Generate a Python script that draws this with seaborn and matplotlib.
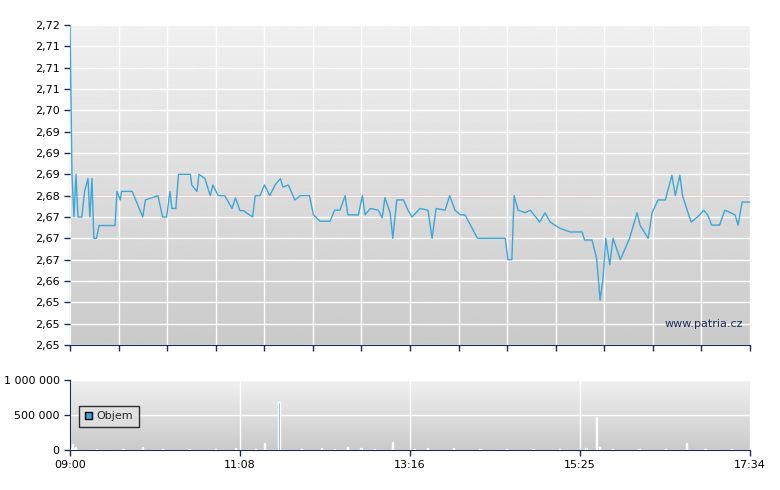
import numpy as np
import pandas as pd
import matplotlib
matplotlib.use("Agg")
import matplotlib.pyplot as plt
import seaborn as sns
from matplotlib.patches import Patch

minutes = [0,1.5,3,4.5,6,9,11,13.6,15,16.6,18,20,22,34,35.5,38,39,47,55,57,66.5,70,73,75.6,77,80,82,91,92,96,97.5,102,106,108,112,117,122.5,125,128.5,131,138,140,143.6,147,151,155,159,161,165,170,174,181,184,189,196.5,200,204,208,210,218,221,223,227,233,236,238,242,244,247,252,255.5,258.5,264.6,270.6,273.7,276.7,283.5,287,291,295,298.6,308,329,331,334,335.7,338.7,344,348,355,359,363,370,378,387,389,394.6,398,400.7,403,405,408,410.5,416,423,428.6,431,437,440,444.5,450,455,457.5,461,463,466.5,469.6,476,479,482,485,491,495,502.7,505,508,514]
prices = [2.72,2.685,2.675,2.685,2.675,2.675,2.681,2.684,2.675,2.684,2.670,2.670,2.673,2.673,2.681,2.679,2.681,2.681,2.675,2.679,2.680,2.675,2.675,2.681,2.677,2.677,2.685,2.685,2.6825,2.681,2.685,2.684,2.680,2.6825,2.680,2.680,2.677,2.6795,2.6765,2.6765,2.675,2.680,2.680,2.6825,2.680,2.6825,2.684,2.682,2.6825,2.679,2.680,2.680,2.6755,2.674,2.674,2.6766,2.6766,2.680,2.6755,2.6755,2.680,2.6755,2.677,2.6766,2.6748,2.6795,2.676,2.670,2.679,2.679,2.6766,2.675,2.677,2.6766,2.670,2.677,2.6766,2.680,2.6766,2.6755,2.6755,2.670,2.670,2.665,2.665,2.680,2.6766,2.676,2.6766,2.6738,2.676,2.6738,2.6724,2.6715,2.6715,2.6696,2.6696,2.6654,2.6555,2.6607,2.670,2.6638,2.670,2.665,2.670,2.676,2.673,2.670,2.676,2.679,2.679,2.6848,2.680,2.6848,2.680,2.6766,2.6738,2.6755,2.6766,2.6755,2.6731,2.6731,2.6766,2.6755,2.6731,2.6785,2.6785]
ref_price = 2.68

vol_minutes = [1,2,3,4,20,40,55,70,90,110,125,140,147,158,175,190,200,210,220,230,244,260,270,290,310,330,350,370,390,398,400,410,430,450,466,480,500]
volumes = [30000,80000,20000,50000,15000,20000,40000,10000,15000,20000,30000,20000,100000,680000,20000,25000,15000,40000,30000,20000,120000,20000,30000,25000,15000,10000,20000,15000,30000,470000,50000,20000,15000,20000,100000,20000,15000]

ytick_vals = [2.645 + 0.005*i for i in range(16)]
ytick_labels = ["2,65","2,65","2,66","2,66","2,67","2,67","2,68","2,68","2,69","2,69","2,70","2,70","2,71","2,71","2,72","2,72"]
ytick_labels = [f"{v:.2f}".replace(".", ",") for v in ytick_vals]
xlabels = ["09:00","11:08","13:16","15:25","17:34"]
xlabel_pos = [0,128.5,257,385.5,514]

sns.set_style("white")
plt.rcParams['font.family'] = ['DejaVu Sans']
fig = plt.figure(figsize=(7.8,4.9), dpi=100)
W,H = 780,490
ax = fig.add_axes([70/W, (H-345)/H, 680/W, 320/H])
axv = fig.add_axes([70/W, (H-450)/H, 680/W, 70/H])
navy = "#1a2a5a"
grad = np.linspace(0.94, 0.79, 256).reshape(-1,1)

for a in (ax, axv):
    a.imshow(grad, extent=[0,1,0,1], transform=a.transAxes, cmap="gray", vmin=0, vmax=1, aspect="auto", zorder=0)
    for s in ("top","right"):
        a.spines[s].set_visible(False)
    for s in ("left","bottom"):
        a.spines[s].set_color(navy)
    a.tick_params(axis="both", colors=navy, labelcolor="#000000", labelsize=8, direction="out", length=4, width=1, left=True, bottom=True)
    a.set_xlim(0,514)

df = pd.DataFrame({"t":minutes,"p":prices})
sns.lineplot(data=df, x="t", y="p", ax=ax, color="#3ba6d8", linewidth=1, zorder=3)
ax.axhline(ref_price, color="#e05050", linewidth=1, zorder=2)
ax.set_ylim(2.645, 2.72)
ax.set_yticks(ytick_vals)
ax.set_yticklabels(ytick_labels)
xt = [514/14*i for i in range(15)]
ax.set_xticks(xt)
ax.set_xticklabels([])
ax.grid(True, color="white", linewidth=1)
ax.set_axisbelow(False)
for l in ax.get_xgridlines()+ax.get_ygridlines():
    l.set_zorder(1)
ax.set_xlabel(""); ax.set_ylabel("")
ax.text(0.99, 0.05, "www.patria.cz", transform=ax.transAxes, ha="right", va="bottom", fontsize=8, color="#1a2a5a", zorder=4)

axv.bar(vol_minutes, volumes, width=1, color="#3ba6d8", zorder=3)
axv.set_ylim(0, 1000000)
axv.set_yticks([0,500000,1000000])
axv.set_yticklabels(["0","500 000","1 000 000"])
axv.set_xticks(xlabel_pos)
axv.set_xticklabels(xlabels)
axv.grid(True, color="white", linewidth=1, zorder=1)
for l in axv.get_xgridlines()+axv.get_ygridlines():
    l.set_zorder(1)
leg = axv.legend(handles=[Patch(facecolor="#3ba6d8", edgecolor="#000000", label="Objem")], loc="lower left",
                 bbox_to_anchor=(0.005, 0.25), fontsize=8, frameon=True, fancybox=False,
                 handlelength=0.7, handleheight=0.7, borderpad=0.5, handletextpad=0.4)
leg.get_frame().set_edgecolor("#000000")
leg.get_frame().set_facecolor("#e0e0e0")
leg.set_zorder(5)

fig.savefig("out.png", dpi=100)
